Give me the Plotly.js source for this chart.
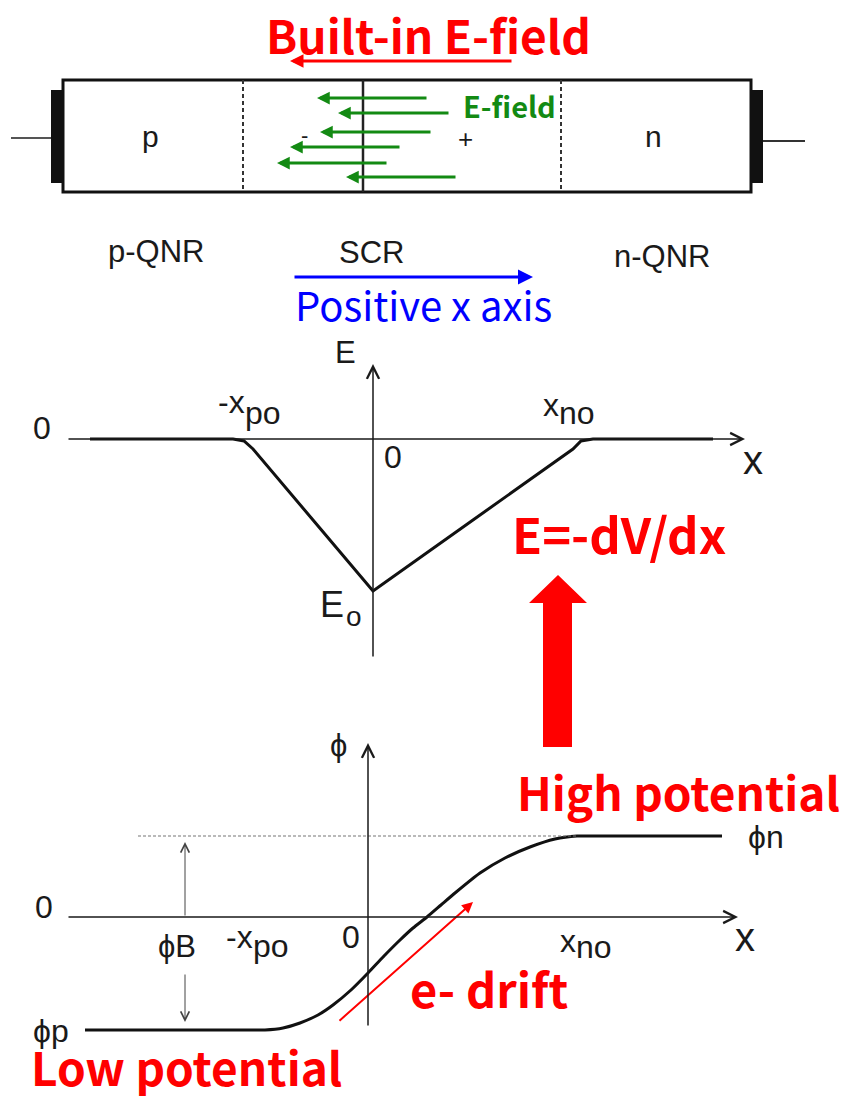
<!DOCTYPE html>
<html><head><meta charset="utf-8">
<script src="https://cdn.plot.ly/plotly-3.0.1.min.js"></script>
<style>html,body{margin:0;padding:0;background:#fff}#chart{width:843px;height:1100px}</style>
</head><body><div id="chart"></div>
<script>
// Electric field profile E(x) (diagram units, origin at axes crossing)
const eX     = [-2.83, -1.40, -1.29, -1.20, -0.60, 0.00, 1.00, 2.00, 2.08, 2.20, 3.40];
const eField = [ 0.00,  0.00, -0.02, -0.10, -0.81, -1.52, -0.81, -0.10, -0.02, 0.00, 0.00];
// Potential profile phi(x)
const phiX   = [-2.83, -2.20, -1.60, -1.20, -1.03, -0.85, -0.68, -0.50, -0.35, -0.17, 0.00, 0.16, 0.32, 0.45, 0.59, 0.73, 0.87, 1.12, 1.37, 1.62, 1.87, 2.09, 2.30, 2.90, 3.54];
const phiVal = [-1.13, -1.13, -1.13, -1.13, -1.13, -1.11, -1.06, -0.98, -0.88, -0.73, -0.56, -0.39, -0.23, -0.11, 0.00, 0.12, 0.24, 0.44, 0.59, 0.70, 0.78, 0.81, 0.81, 0.81, 0.81];
// Labels
const regionLabels = ['p-QNR', 'SCR', 'n-QNR'];
const redLabels = ['Built-in E-field', 'E=-dV/dx', 'High potential', 'Low potential', 'e- drift'];

const KR = '"Noto Sans CJK KR", "Noto Sans", sans-serif';
const AR = '"Liberation Sans", Arial, sans-serif';
const INK = '#1a1a1a';

const traces = [
  {x: [], y: [], xaxis: 'x', yaxis: 'y', hoverinfo: 'skip'},
  {x: eX, y: eField, xaxis: 'x2', yaxis: 'y2', mode: 'lines',
   line: {color: '#111', width: 3}, hoverinfo: 'skip'},
  {x: phiX, y: phiVal, xaxis: 'x3', yaxis: 'y3', mode: 'lines',
   line: {color: '#111', width: 3, shape: 'spline', smoothing: 0.6}, hoverinfo: 'skip'}
];

const ann = [];
function T(text, x, y, size, color, family, bold, xa, ya) {
  ann.push({text: text, x: x, y: y, xref: 'x', yref: 'y', borderpad: 0,
    showarrow: false, xanchor: xa || 'center', yanchor: ya || 'middle',
    font: {family: family, size: size, color: color, weight: bold ? 700 : 400}});
}
function A(tx, ty, hx, hy, color, width, head, size, ref) {
  const xr = ref ? ref[0] : 'x', yr = ref ? ref[1] : 'y';
  ann.push({text: '', x: hx, y: hy, ax: tx, ay: ty, xref: xr, yref: yr, axref: xr, ayref: yr,
    showarrow: true, arrowcolor: color, arrowwidth: width, arrowhead: head, arrowsize: size});
}

// Red / blue / green callouts
T(redLabels[0], 428, 0, 46, '#ff0000', KR, true, 'center', 'top');
T('E-field', 509, 105, 29, '#138a13', KR, true);
T('Positive x axis', 423, 304, 40, '#0000ff', KR, false);
T(redLabels[1], 619, 532, 49, '#ff0000', KR, true);
T(redLabels[2], 678, 791, 46, '#ff0000', KR, true);
T(redLabels[3], 186, 1100, 46, '#ff0000', KR, true, 'center', 'bottom');
T(redLabels[4], 489, 987, 47, '#ff0000', KR, true);

// device labels
T('p', 150, 136, 30, INK, AR);
T('n', 653, 136, 30, INK, AR);
T('+', 465, 139, 26, INK, AR);
T('-', 304, 135, 22, INK, AR);
T(regionLabels[0], 156, 251, 31, INK, AR);
T(regionLabels[1], 371, 252, 31, INK, AR);
T(regionLabels[2], 662, 256, 31, INK, AR);

// E plot labels
T('E', 345, 352, 31, INK, AR);
T('0', 42, 428, 32, INK, AR);
T('0', 393, 457, 32, INK, AR);
T('-x', 246, 402, 32, INK, AR, false, 'right');
T('po', 244, 413, 32, INK, AR, false, 'left');
T('x', 560, 405, 32, INK, AR, false, 'right');
T('no', 558, 413, 32, INK, AR, false, 'left');
T('x', 753, 460, 40, INK, AR);
T('E', 332, 604, 36, INK, AR);
T('o', 354, 616, 28, INK, AR);

// potential plot labels
T('\u03d5', 338, 745, 31, INK, AR);
T('0', 44, 907, 32, INK, AR);
T('\u03d5B', 177, 946, 31, INK, AR);
T('-x', 254, 937, 32, INK, AR, false, 'right');
T('po', 252, 946, 32, INK, AR, false, 'left');
T('x', 577, 941, 32, INK, AR, false, 'right');
T('no', 575, 947, 32, INK, AR, false, 'left');
T('0', 351, 937, 32, INK, AR);
T('x', 745, 937, 40, INK, AR);
T('\u03d5n', 766, 837, 32, INK, AR);
T('\u03d5p', 51, 1031, 32, INK, AR);

// arrows: built-in, green field lines, positive x
A(513, 61, 290, 61, '#ff0000', 3, 2, 0.9);
const g = '#138a13';
A(428, 98, 317, 98, g, 3, 2, 0.85);
A(450, 113, 338, 113, g, 3, 2, 0.85);
A(432, 132, 320, 132, g, 3, 2, 0.85);
A(401, 147, 290, 147, g, 3, 2, 0.85);
A(388, 163, 277, 163, g, 3, 2, 0.85);
A(457, 177, 346, 177, g, 3, 2, 0.85);
A(293, 277, 533, 277, '#0000ff', 3, 2, 1.0);
A(338, 1022, 473, 902, '#ff0000', 2, 2, 1.1);

// E plot axes (in E-plot units)
const e2 = ['x2', 'y2'];
A(-3.06, 0, 3.72, 0, INK, 1.5, 5, 1.6, e2);
A(0, -2.19, 0, 0.75, INK, 1.5, 5, 1.6, e2);
// potential plot axes
const p3 = ['x3', 'y3'];
A(-3.01, 0, 3.70, 0, INK, 1.5, 5, 1.6, p3);
A(0, -1.10, 0, 1.74, INK, 1.5, 5, 1.6, p3);
// phi_B double arrow
A(-1.83, 0, -1.83, 0.75, '#444', 1, 5, 1.7, p3);
A(-1.83, -0.56, -1.83, -1.05, '#444', 1, 5, 1.7, p3);

const shapes = [
  {type: 'rect', x0: 63, x1: 751, y0: 80, y1: 192, line: {color: '#111', width: 3}},
  {type: 'rect', x0: 51, x1: 63, y0: 90, y1: 183, fillcolor: '#111', line: {width: 0}},
  {type: 'rect', x0: 751, x1: 763, y0: 90, y1: 183, fillcolor: '#111', line: {width: 0}},
  {type: 'line', x0: 11, x1: 51, y0: 138, y1: 138, line: {color: '#555', width: 2}},
  {type: 'line', x0: 763, x1: 805, y0: 141, y1: 141, line: {color: '#333', width: 2}},
  {type: 'line', x0: 243, x1: 243, y0: 80, y1: 192, line: {color: '#333', width: 2, dash: '4px,3px'}},
  {type: 'line', x0: 561, x1: 561, y0: 80, y1: 192, line: {color: '#333', width: 2, dash: '4px,3px'}},
  {type: 'line', x0: 363, x1: 363, y0: 80, y1: 192, line: {color: '#222', width: 2.5}},
  {type: 'line', xref: 'x3', yref: 'y3', x0: -2.30, x1: 2.09, y0: 0.81, y1: 0.81,
   line: {color: '#777', width: 1.2, dash: '3px,2px'}},
  {type: 'path', path: 'M543,747 L572,747 L572,603 L587,603 L558,575 L529,603 L543,603 Z',
   fillcolor: '#ff0000', line: {width: 0}}
];

const hid = {visible: false, fixedrange: true};
const layout = {
  width: 843, height: 1100, margin: {l: 0, r: 0, t: 0, b: 0, pad: 0},
  paper_bgcolor: '#fff', plot_bgcolor: '#fff', showlegend: false,
  xaxis: Object.assign({range: [0, 843], domain: [0, 1]}, hid),
  yaxis: Object.assign({range: [1100, 0], domain: [0, 1]}, hid),
  xaxis2: Object.assign({range: [-3.73, 4.70], overlaying: 'x', anchor: 'y2'}, hid),
  yaxis2: Object.assign({range: [-6.61, 4.39], overlaying: 'y', anchor: 'x2'}, hid),
  xaxis3: Object.assign({range: [-3.68, 4.75], overlaying: 'x', anchor: 'y3'}, hid),
  yaxis3: Object.assign({range: [-1.83, 9.17], overlaying: 'y', anchor: 'x3'}, hid),
  shapes: shapes, annotations: ann
};
Plotly.newPlot('chart', traces, layout, {displayModeBar: false, staticPlot: true});
</script></body></html>
